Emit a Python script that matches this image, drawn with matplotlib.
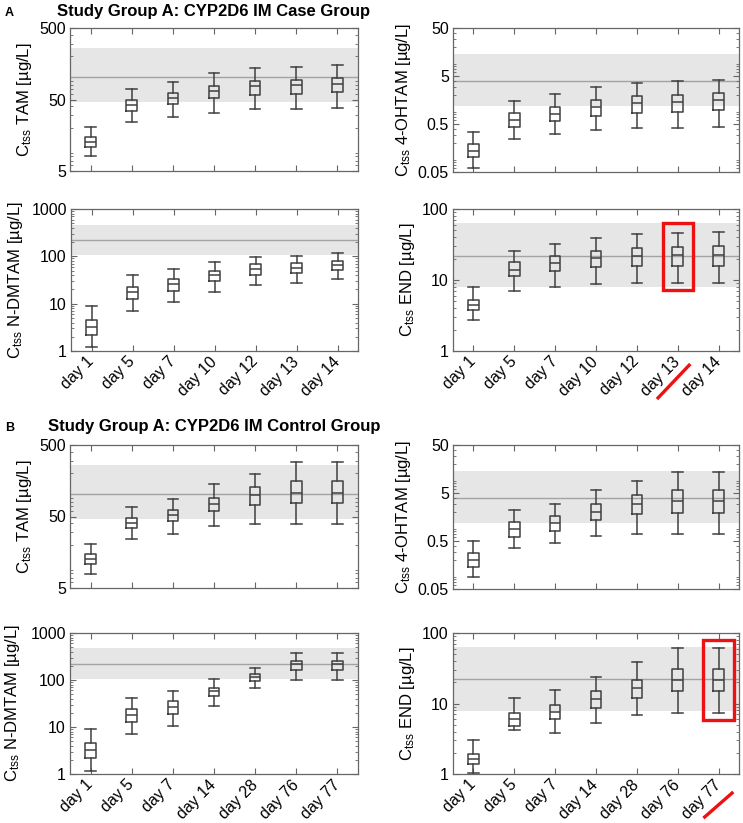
import matplotlib
matplotlib.use('Agg')
import matplotlib.pyplot as plt
import matplotlib.transforms as mtransforms
from matplotlib.patches import Rectangle
from matplotlib.ticker import FixedLocator, FixedFormatter, NullFormatter, LogLocator

plt.rcParams['font.family'] = ['Liberation Sans', 'DejaVu Sans']
plt.rcParams['mathtext.default'] = 'regular'

# x categories
days_case = ['day 1', 'day 5', 'day 7', 'day 10', 'day 12', 'day 13', 'day 14']
days_ctrl = ['day 1', 'day 5', 'day 7', 'day 14', 'day 28', 'day 76', 'day 77']

# box statistics, rows: lower whisker, q1, median, q3, upper whisker
tam_case = [[8.1, 24, 28.5, 32.5, 36.5, 37, 38],
            [10.7, 34.5, 43, 52, 58.5, 60.5, 64],
            [12.6, 42, 53, 66, 76, 79.5, 83],
            [15, 50, 62.5, 78, 91, 94.5, 101],
            [20.7, 69, 89, 116, 136, 142, 153]]
ohtam_case = [[0.060, 0.245, 0.315, 0.375, 0.413, 0.420, 0.427],
              [0.102, 0.433, 0.577, 0.721, 0.858, 0.90, 0.96],
              [0.140, 0.605, 0.805, 1.12, 1.40, 1.45, 1.55],
              [0.193, 0.831, 1.14, 1.59, 1.96, 2.02, 2.22],
              [0.347, 1.50, 2.09, 2.92, 3.64, 3.88, 4.20]]
dmtam_case = [[1.2, 7.0, 10.7, 17.5, 25, 28, 33],
              [2.2, 12.6, 18.9, 29.9, 41.3, 45.5, 52.7],
              [3.2, 17.7, 25.8, 39.4, 54.5, 58, 67],
              [4.5, 22.6, 33.4, 49.4, 67.3, 71.8, 79],
              [9.0, 40, 55, 77, 96, 103, 115]]
end_case = [[2.7, 7.05, 7.95, 8.7, 9.1, 9.1, 9.2],
            [3.8, 11.5, 13.3, 15.0, 15.8, 15.8, 16.0],
            [4.46, 14.0, 17.5, 20.3, 21.9, 22.4, 22.7],
            [5.25, 17.8, 21.5, 25.3, 28.2, 28.8, 30.1],
            [7.95, 25.6, 32.5, 38.7, 45, 46, 47.6]]

tam_ctrl = [[7.9, 24.1, 28.3, 37.1, 39.9, 39.9, 39.9],
            [10.7, 34.4, 42.6, 60.6, 71.9, 77.6, 77],
            [12.6, 41.2, 52.2, 75.9, 99, 108, 107],
            [15.1, 48.4, 62.6, 92, 128, 156, 156],
            [20.6, 68, 89, 141, 199, 290, 290]]
ohtam_ctrl = [[0.090, 0.357, 0.454, 0.635, 0.688, 0.711, 0.711],
              [0.146, 0.606, 0.82, 1.35, 1.80, 1.95, 1.95],
              [0.204, 0.889, 1.2, 2.04, 2.90, 3.46, 3.46],
              [0.286, 1.26, 1.69, 2.90, 4.47, 5.78, 5.78],
              [0.492, 2.18, 3.0, 5.78, 9.03, 13.5, 13.5]]
dmtam_ctrl = [[1.18, 7.0, 10.7, 27.7, 66, 99, 99],
              [2.23, 12.8, 19.3, 46, 96, 162, 162],
              [3.25, 18.1, 27.3, 59, 115, 218, 218],
              [4.66, 23.9, 34.9, 69, 133, 248, 248],
              [8.96, 41.7, 57, 104, 179, 374, 374]]
end_ctrl = [[1.02, 4.21, 3.77, 5.23, 6.79, 7.33, 7.33],
            [1.39, 4.75, 6.03, 8.63, 11.8, 15.2, 15.2],
            [1.65, 6.03, 7.57, 11.6, 16.4, 21.8, 21.8],
            [1.94, 7.25, 9.52, 15.0, 21.5, 30.5, 30.5],
            [3.07, 11.8, 15.5, 23.8, 38.8, 60.6, 60.6]]

# reference range (low, median, high) shown as grey band + line
tam_ref = [46, 103, 260]
ohtam_ref = [1.18, 3.9, 14.5]
dmtam_ref = [106, 218, 470]
end_ref = [7.95, 22, 62.5]

tam_ticks = [5, 50, 500]
ohtam_ticks = [0.05, 0.5, 5, 50]
dmtam_ticks = [1, 10, 100, 1000]
end_ticks = [1, 10, 100]

W, H = 743, 823
fig = plt.figure(figsize=(W / 100, H / 100), dpi=100)


def pos(l, t, r, b):
    return [l / W, 1 - b / H, (r - l) / W, (b - t) / H]


LINE = '#404040'


def panel(rect, stats, ref, ticks, name, days, lab_x, show_x):
    ax = fig.add_axes(rect)
    ax.set_yscale('log')
    ax.axhspan(ref[0], ref[2], color='#e6e6e6', lw=0, zorder=0)
    ax.axhline(ref[1], color='#a3a3a3', lw=1.0, zorder=1)
    bs = []
    for i in range(len(days)):
        bs.append(dict(whislo=stats[0][i], q1=stats[1][i], med=stats[2][i],
                       q3=stats[3][i], whishi=stats[4][i], fliers=[]))
    lp = dict(color=LINE, lw=1.1)
    ax.bxp(bs, positions=range(1, len(days) + 1), widths=0.26, capwidths=0.26,
           showfliers=False, boxprops=lp, whiskerprops=lp, capprops=lp,
           medianprops=lp, manage_ticks=False, zorder=3)
    ax.set_xlim(0.5, 7.5)
    ax.set_ylim(ticks[0], ticks[-1])
    ax.yaxis.set_major_locator(FixedLocator(ticks))
    ax.yaxis.set_major_formatter(FixedFormatter(['{:g}'.format(t) for t in ticks]))
    ax.yaxis.set_minor_locator(LogLocator(subs=range(2, 10)))
    ax.yaxis.set_minor_formatter(NullFormatter())
    ax.set_xticks(range(1, len(days) + 1))
    if show_x:
        ax.set_xticklabels(days, rotation=45, ha='right', va='center',
                           rotation_mode='anchor', fontsize=12)
    else:
        ax.set_xticklabels([])
    ax.tick_params(which='both', direction='in', top=True, right=True,
                   color='#666666', labelsize=11.5, pad=3)
    ax.tick_params(which='major', length=4, width=0.8)
    ax.tick_params(which='minor', length=2, width=0.6)
    ax.tick_params(axis='x', pad=6)
    for s in ax.spines.values():
        s.set_color('#666666')
        s.set_linewidth(0.9)
    ax.set_ylabel(r'C$_{tss}$ ' + name + ' [µg/L]', fontsize=12)
    ax.yaxis.set_label_coords(lab_x, 0.5)
    return ax


def highlight(ax, idx, lo, hi, slash):
    ax.add_patch(Rectangle((idx + 1 - 0.37, lo), 0.74, hi - lo, fill=False,
                           ec='#ee1111', lw=2.4, zorder=5))
    tr = mtransforms.blended_transform_factory(ax.transData, ax.transAxes)
    ax.plot([idx + 1 + slash[0], idx + 1 + slash[1]], [slash[2], slash[3]],
            color='#ee1111', lw=2.4, transform=tr, clip_on=False)


# study group A: case
fig.text(5 / W, 1 - 16 / H, 'A', fontsize=9, fontweight='bold')
fig.text(214 / W, 1 - 16 / H, 'Study Group A: CYP2D6 IM Case Group',
         fontsize=12, fontweight='bold', ha='center')
panel(pos(70, 28, 358, 171), tam_case, tam_ref, tam_ticks, 'TAM', days_case, -0.125, False)
panel(pos(453, 28, 739, 172), ohtam_case, ohtam_ref, ohtam_ticks, '4-OHTAM', days_case, -0.14, False)
panel(pos(71, 209, 358, 351), dmtam_case, dmtam_ref, dmtam_ticks, 'N-DMTAM', days_case, -0.16, True)
ax = panel(pos(453, 209, 739, 351), end_case, end_ref, end_ticks, 'END', days_case, -0.126, True)
highlight(ax, 5, 7.3, 63.3, (-0.48, 0.28, -0.33, -0.10))

# study group A: control
fig.text(5 / W, 1 - 431 / H, 'B', fontsize=9, fontweight='bold')
fig.text(214 / W, 1 - 431 / H, 'Study Group A: CYP2D6 IM Control Group',
         fontsize=12, fontweight='bold', ha='center')
panel(pos(70, 445, 358, 588), tam_ctrl, tam_ref, tam_ticks, 'TAM', days_ctrl, -0.125, False)
panel(pos(453, 445, 739, 589), ohtam_ctrl, ohtam_ref, ohtam_ticks, '4-OHTAM', days_ctrl, -0.14, False)
panel(pos(70, 633, 358, 774), dmtam_ctrl, dmtam_ref, dmtam_ticks, 'N-DMTAM', days_ctrl, -0.165, True)
ax = panel(pos(453, 633, 739, 774), end_ctrl, end_ref, end_ticks, 'END', days_ctrl, -0.126, True)
highlight(ax, 6, 5.9, 78.7, (-0.34, 0.33, -0.305, -0.135))

fig.savefig('out.png', dpi=100)
